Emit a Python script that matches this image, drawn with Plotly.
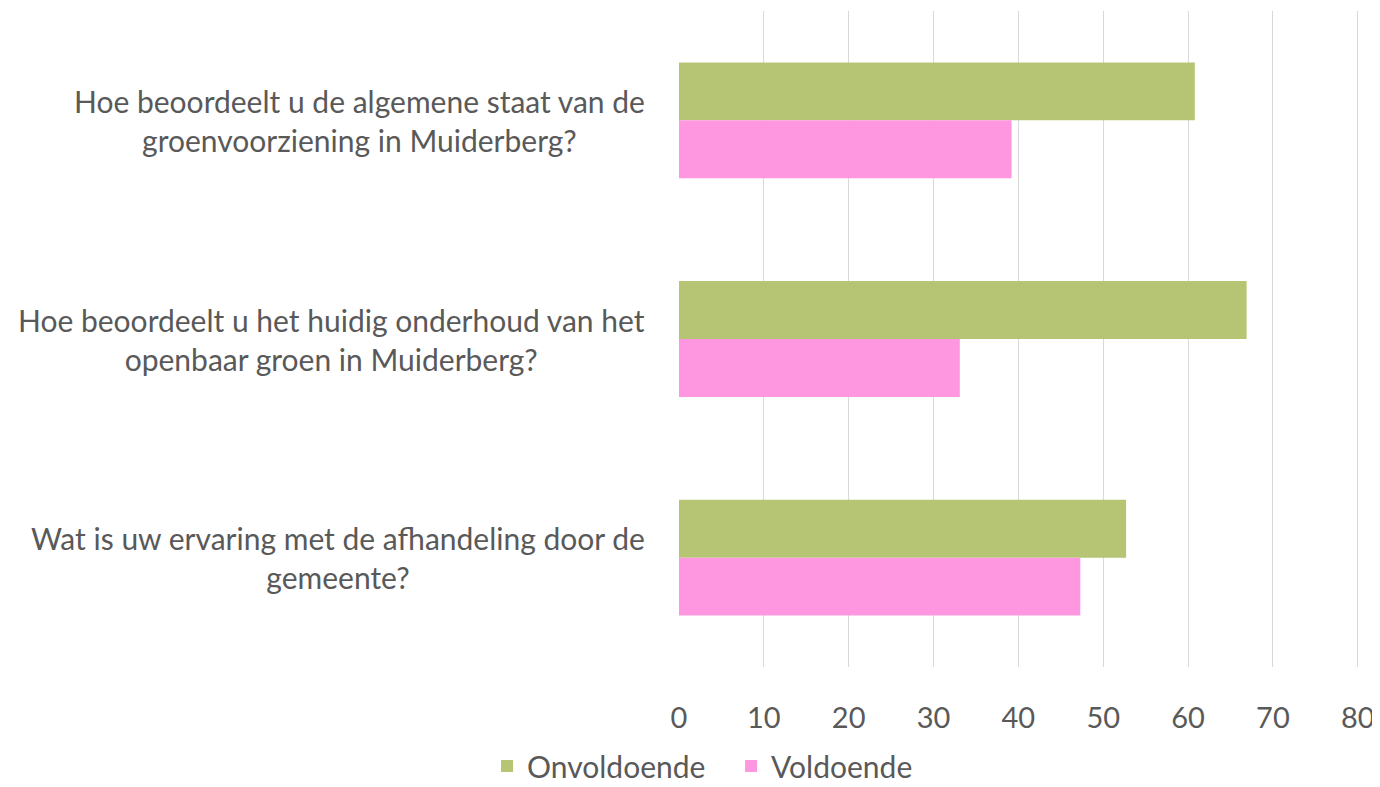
import plotly.graph_objects as go

categories = [
    "Hoe beoordeelt u de algemene staat van de<br>groenvoorziening in Muiderberg?",
    "Hoe beoordeelt u het huidig onderhoud van het<br>openbaar groen in Muiderberg?",
    "Wat is uw ervaring met de afhandeling door de<br>gemeente?",
]
onvoldoende = [60.8, 66.9, 52.7]
voldoende = [39.2, 33.1, 47.3]
x_ticks = [0, 10, 20, 30, 40, 50, 60, 70, 80]

FONT = "Lato"
GREY = "#595959"

fig = go.Figure()
fig.add_trace(go.Bar(y=categories, x=onvoldoende, orientation="h", name="Onvoldoende",
                     marker=dict(color="#B5C573", line=dict(width=0))))
fig.add_trace(go.Bar(y=categories, x=voldoende, orientation="h", name="Voldoende",
                     marker=dict(color="#FF97E0", line=dict(width=0))))

for c in categories:
    fig.add_annotation(x=0, xref="paper", y=c, yref="y", text=c, showarrow=False,
                       xanchor="right", yanchor="middle", align="center", xshift=-32,
                       font=dict(family=FONT, size=30, color=GREY))

fig.update_layout(
    width=1372, height=779,
    margin=dict(l=671, r=21, t=3, b=120, autoexpand=False),
    paper_bgcolor="white", plot_bgcolor="white",
    barmode="group", bargap=0.47, bargroupgap=0,
    font=dict(family=FONT, size=30, color=GREY),
    showlegend=True,
    legend=dict(orientation="h", xref="container", yref="container", x=0.527, y=0.027,
                xanchor="center", yanchor="middle", font=dict(family=FONT, size=30, color=GREY),
                itemwidth=30, tracegroupgap=0, entrywidth=199, entrywidthmode="pixels"),
)
fig.update_xaxes(range=[0, 80.15], tickvals=x_ticks, showgrid=True, gridcolor="#D9D9D9", gridwidth=1.3,
                 zeroline=False, showline=False, ticks="", ticklabelstandoff=31,
                 ticklabeloverflow="allow",
                 tickfont=dict(family=FONT, size=29, color=GREY))
fig.update_yaxes(autorange="reversed", showticklabels=False, showgrid=False, zeroline=False,
                 showline=False, ticks="")

fig.write_html("out.html")
